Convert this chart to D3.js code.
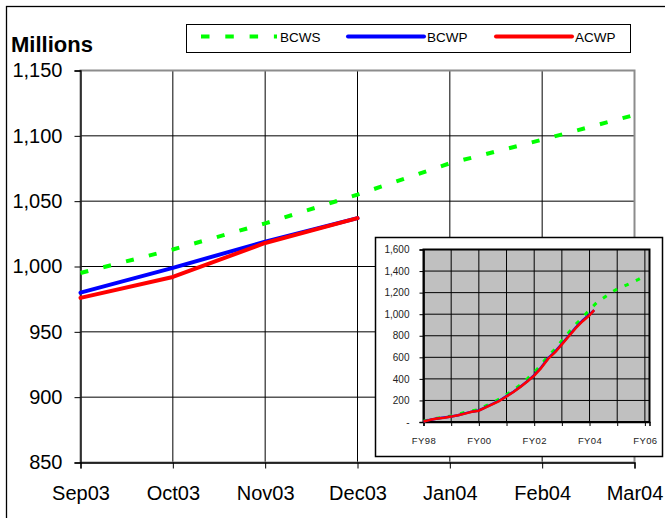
<!DOCTYPE html>
<html>
<head>
<meta charset="utf-8">
<script src="https://cdn.jsdelivr.net/npm/d3@7/dist/d3.min.js"></script>
<style>
  html, body { margin: 0; padding: 0; background: #fff; }
  svg { display: block; font-family: "Liberation Sans", Arial, sans-serif; }
</style>
</head>
<body>
<svg id="chart" width="665" height="518"></svg>
<script>
// ---- Main chart data ----
const months = ["Sep03", "Oct03", "Nov03", "Dec03", "Jan04", "Feb04", "Mar04"];
const bcws = [995, 1013, 1033, 1055, 1079, 1097, 1116];
const bcwp = [980, 999, 1019, 1037];
const acwp = [976, 992, 1018, 1037];
const yTicks = [850, 900, 950, 1000, 1050, 1100, 1150];
const seriesNames = ["BCWS", "BCWP", "ACWP"];

// ---- Inset data (months since start of FY98) ----
const insetPlanMonths = [0,3,6,9,12,15,18,21,24,27,30,33,36,39,42,45,48,51,54,57,60,63,66,69,72,75,78,81,84,87,90,93,95];
const insetBCWS = [8,22,35,45,55,70,90,105,115,150,180,215,255,295,345,400,460,530,610,675,755,830,905,970,1040,1105,1150,1195,1235,1260,1290,1320,1345];
const insetActualMonths = [0,3,6,9,12,15,18,21,24,27,30,33,36,39,42,45,48,51,54,57,60,63,66,69,72,74];
const insetBCWP = [5,20,32,41,51,63,80,96,107,137,168,200,240,281,328,378,434,505,590,650,725,800,875,942,997,1037];
const insetACWP = [5,20,32,40,50,62,78,95,105,135,165,197,237,278,325,375,430,500,585,645,720,795,870,935,990,1037];
const insetYTicks = [0,200,400,600,800,1000,1200,1400,1600];
const insetXTickYears = [0,1,2,3,4,5,6,7,8];
const insetXLabels = {0:"FY98", 2:"FY00", 4:"FY02", 6:"FY04", 8:"FY06"};

const colors = { BCWS: "#00ff00", BCWP: "#0000ff", ACWP: "#ff0000" };
const svg = d3.select("#chart");

// outer chart-area frame
svg.append("rect").attr("x", 6.5).attr("y", 6.5).attr("width", 700).attr("height", 600)
  .attr("fill", "#fff").attr("stroke", "#000").attr("stroke-width", 1.3);

// ---- Main plot ----
const P = { left: 80.5, right: 634.5, top: 70.5, bottom: 462.5 };
const x = d3.scalePoint().domain(months).range([P.left, P.right]);
const y = d3.scaleLinear().domain([850, 1150]).range([P.bottom, P.top]);

const g = svg.append("g");
g.selectAll("line.vg").data(months.slice(1, -1)).join("line")
  .attr("x1", d => x(d)).attr("x2", d => x(d)).attr("y1", P.top).attr("y2", P.bottom)
  .attr("stroke", "#000").attr("stroke-width", 1);
g.selectAll("line.hg").data(yTicks.slice(1, -1)).join("line")
  .attr("x1", P.left).attr("x2", P.right).attr("y1", d => y(d)).attr("y2", d => y(d))
  .attr("stroke", "#000").attr("stroke-width", 1);
g.append("rect").attr("x", P.left).attr("y", P.top).attr("width", P.right - P.left).attr("height", P.bottom - P.top)
  .attr("fill", "none").attr("stroke", "#8c8c8c").attr("stroke-width", 2);

const yAxis = d3.axisLeft(y).tickValues(yTicks).tickSize(6).tickPadding(12).tickFormat(d3.format(","));
const gy = g.append("g").attr("transform", `translate(${P.left},0)`).call(yAxis);
const xAxis = d3.axisBottom(x).tickSize(6).tickPadding(17);
const gx = g.append("g").attr("transform", `translate(0,${P.bottom})`).call(xAxis);
[gy, gx].forEach(a => {
  a.select(".domain").attr("stroke", "#000").attr("stroke-width", 1.3);
  a.selectAll(".tick line").attr("stroke", "#000");
  a.selectAll("text").attr("font-size", 20).attr("fill", "#000")
    .attr("font-family", '"Liberation Sans", Arial, sans-serif');
});

const line = d3.line().x((d, i) => x(months[i])).y(d => y(d));
g.append("path").datum(bcws).attr("d", line).attr("fill", "none")
  .attr("stroke", colors.BCWS).attr("stroke-width", 4).attr("stroke-dasharray", "8,15.5");
g.append("path").datum(bcwp).attr("d", line).attr("fill", "none")
  .attr("stroke", colors.BCWP).attr("stroke-width", 4).attr("stroke-linejoin", "round").attr("stroke-linecap", "round");
g.append("path").datum(acwp).attr("d", line).attr("fill", "none")
  .attr("stroke", colors.ACWP).attr("stroke-width", 4).attr("stroke-linejoin", "round").attr("stroke-linecap", "round");

svg.append("text").attr("x", 11).attr("y", 52).attr("font-size", 22).attr("font-weight", "bold")
  .attr("fill", "#000").text("Millions");

svg.append("rect").attr("x", 186.5).attr("y", 24.5).attr("width", 444).attr("height", 28)
  .attr("fill", "#fff").attr("stroke", "#000").attr("stroke-width", 1);
const legendX = [201, 348, 496];
seriesNames.forEach((name, i) => {
  const lx = legendX[i];
  const ln = svg.append("line").attr("x1", lx).attr("x2", lx + 76).attr("y1", 36.5).attr("y2", 36.5)
    .attr("stroke", colors[name]).attr("stroke-width", 4);
  if (name === "BCWS") ln.attr("stroke-dasharray", "8.5,15.8");
  else ln.attr("stroke-linecap", "round");
  svg.append("text").attr("x", lx + 79).attr("y", 41.5).attr("font-size", 13.5).attr("fill", "#000").text(name);
});

// ---- Inset ----
svg.append("rect").attr("x", 375.5).attr("y", 237.5).attr("width", 287).attr("height", 219)
  .attr("fill", "#fff").attr("stroke", "#000").attr("stroke-width", 1.5);
const I = { left: 423.5, right: 649.5, top: 249.5, bottom: 422 };
const ix = d3.scaleLinear().domain([0, 98]).range([I.left, I.right]);
const iy = d3.scaleLinear().domain([0, 1600]).range([I.bottom, I.top]);
const ig = svg.append("g");
ig.append("rect").attr("x", I.left).attr("y", I.top).attr("width", I.right - I.left).attr("height", I.bottom - I.top)
  .attr("fill", "#c0c0c0");
ig.selectAll("line.ivg").data(insetXTickYears.slice(1)).join("line")
  .attr("x1", d => ix(d * 12)).attr("x2", d => ix(d * 12)).attr("y1", I.top).attr("y2", I.bottom)
  .attr("stroke", "#000").attr("stroke-width", 1);
ig.selectAll("line.ihg").data(insetYTicks.slice(1, -1)).join("line")
  .attr("x1", I.left).attr("x2", I.right).attr("y1", d => iy(d)).attr("y2", d => iy(d))
  .attr("stroke", "#000").attr("stroke-width", 1);
ig.append("rect").attr("x", I.left).attr("y", I.top).attr("width", I.right - I.left).attr("height", I.bottom - I.top)
  .attr("fill", "none").attr("stroke", "#000").attr("stroke-width", 2);

const iyAxis = d3.axisLeft(iy).tickValues(insetYTicks).tickSize(4).tickPadding(10)
  .tickFormat(d => d === 0 ? "-" : d3.format(",")(d));
const giy = ig.append("g").attr("transform", `translate(${I.left},0)`).call(iyAxis);
const ixAxis = d3.axisBottom(ix).tickValues(insetXTickYears.map(d => d * 12)).tickSize(4).tickPadding(11)
  .tickFormat(d => insetXLabels[d / 12] || "");
const gix = ig.append("g").attr("transform", `translate(0,${I.bottom})`).call(ixAxis);
[giy, gix].forEach(a => {
  a.select(".domain").attr("stroke", "#000").attr("stroke-width", 1.5);
  a.selectAll(".tick line").attr("stroke", "#000");
  a.selectAll("text").attr("font-size", 10).attr("fill", "#222")
    .attr("font-family", '"Liberation Sans", Arial, sans-serif');
});
gix.selectAll("text").attr("font-size", 9.5).attr("letter-spacing", 0.4);

const iline = (ms) => d3.line().x((d, i) => ix(ms[i])).y(d => iy(d));
ig.append("path").datum(insetBCWS).attr("d", iline(insetPlanMonths)).attr("fill", "none")
  .attr("stroke", colors.BCWS).attr("stroke-width", 3).attr("stroke-dasharray", "4.5,8");
ig.append("path").datum(insetBCWP).attr("d", iline(insetActualMonths)).attr("fill", "none")
  .attr("stroke", colors.BCWP).attr("stroke-width", 2.5);
ig.append("path").datum(insetACWP).attr("d", iline(insetActualMonths)).attr("fill", "none")
  .attr("stroke", colors.ACWP).attr("stroke-width", 2.5).attr("stroke-linejoin", "round");
</script>
</body>
</html>
